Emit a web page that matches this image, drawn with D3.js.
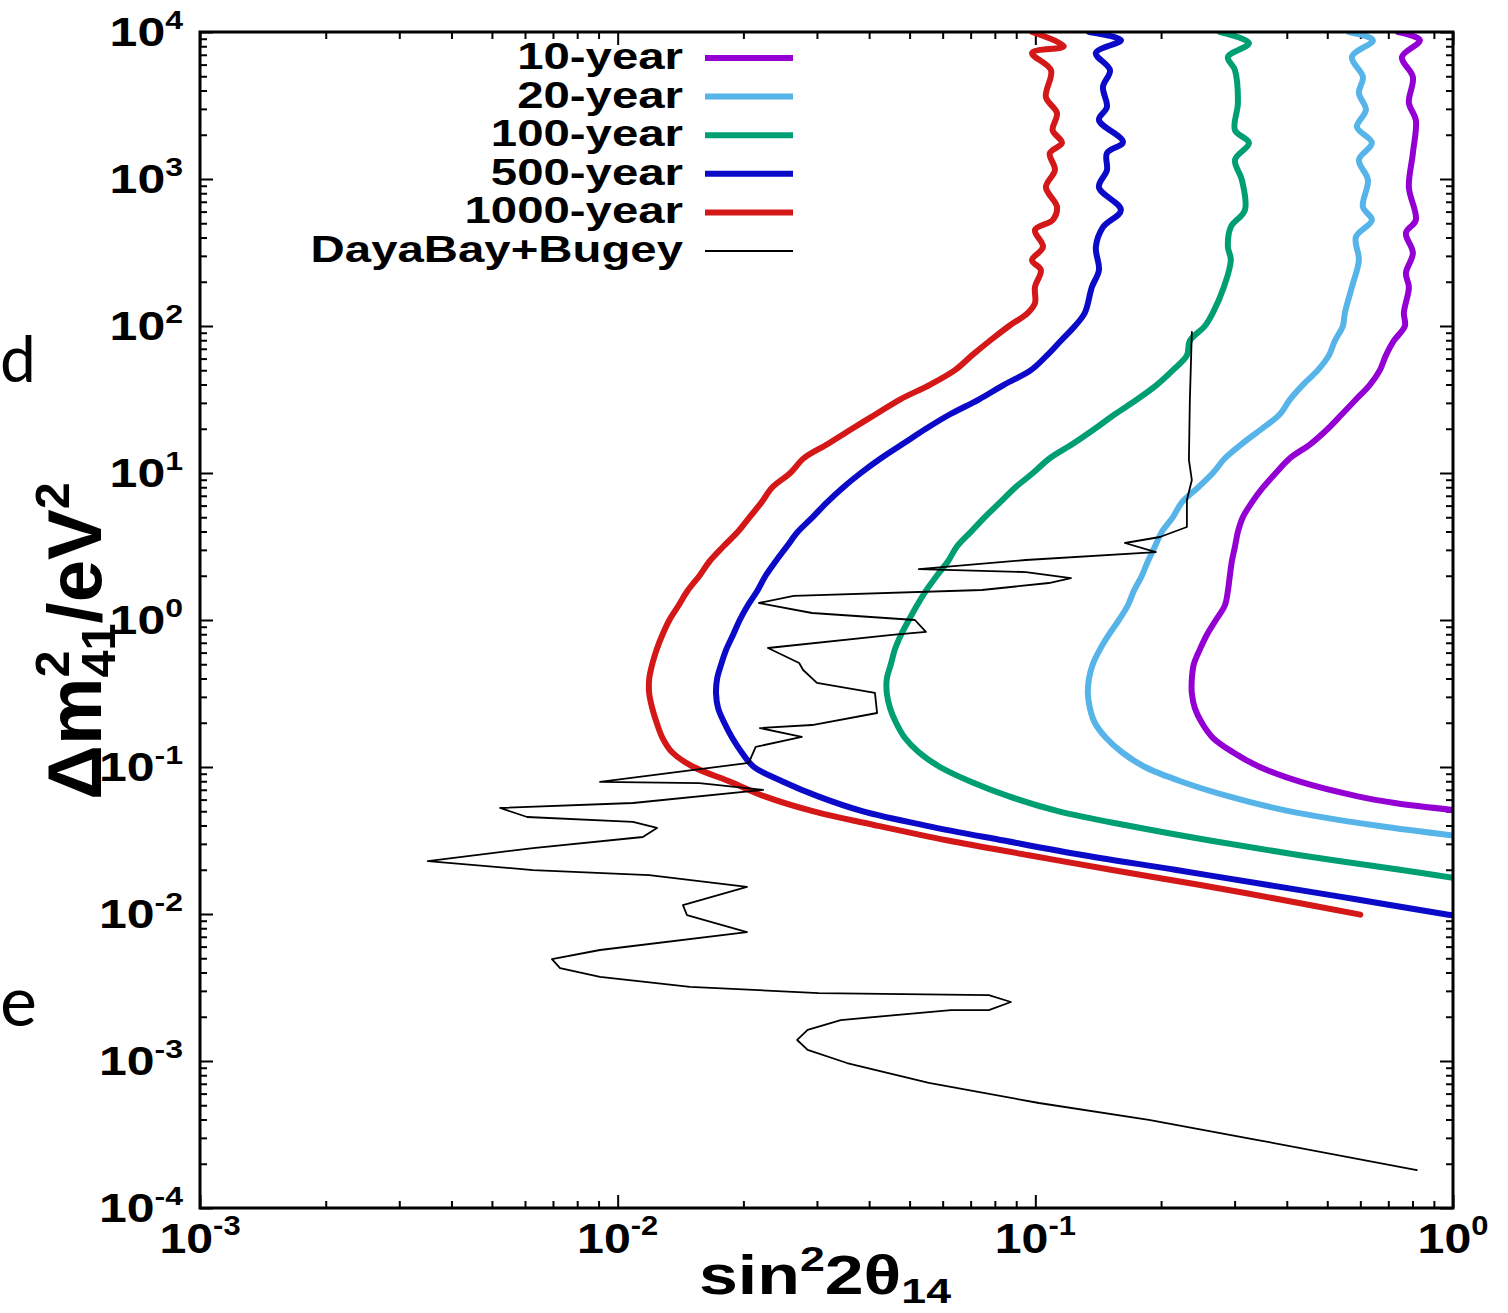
<!DOCTYPE html>
<html><head><meta charset="utf-8">
<script src="https://cdn.jsdelivr.net/npm/d3@7"></script>
<style>
html,body{margin:0;padding:0;background:#fff;}
svg{display:block;}
text{font-family:"Liberation Sans",Arial,sans-serif;font-weight:bold;fill:#000;}
</style></head><body>
<svg id="chart" width="1508" height="1313"></svg>
<script>
// ---------------- data (x = sin^2 2theta14, y = dm41^2 / eV^2) ----------------
const seriesNames  = ["10-year","20-year","100-year","500-year","1000-year","DayaBay+Bugey"];
const seriesColors = ["#9400d3","#56b4e9","#009e73","#0a0ac8","#d41818","#000000"];

const year10 = [[0.7379,10000],[0.8332,8800],[0.7544,6760],[0.8016,4940],[0.7840,3290],[0.8147,2520],[0.8016,1500],[0.7840,880],[0.8147,526],[0.7713,429],[0.8016,314],[0.7713,229],[0.7840,184],[0.7628,123],[0.767,100],[0.7218,79.4],[0.6908,63.1],[0.6683,50.1],[0.6324,39.8],[0.5855,31.6],[0.5420,25.1],[0.5017,20],[0.4567,15.8],[0.4069,12.6],[0.3766,10],[0.3505,7.94],[0.3300,6.31],[0.3140,5.01],[0.3055,3.98],[0.3006,3.16],[0.2955,2.51],[0.2922,2.0],[0.2891,1.58],[0.2844,1.26],[0.2706,1.0],[0.2575,0.794],[0.2477,0.631],[0.2396,0.501],[0.2370,0.398],[0.2370,0.316],[0.2410,0.251],[0.2504,0.2],[0.2661,0.158],[0.2972,0.126],[0.3448,0.1],[0.4300,0.0794],[0.5919,0.0631],[0.7258,0.0569],[1.0,0.0510]];

const year20 = [[0.5633,10000],[0.6430,8800],[0.5727,6760],[0.6085,4940],[0.5952,3850],[0.6187,2950],[0.5888,2260],[0.6394,1760],[0.5952,1350],[0.6256,985],[0.6085,645],[0.6394,526],[0.5855,403],[0.5952,281],[0.5727,184],[0.5510,123],[0.5450,100],[0.5214,79.4],[0.5045,63.1],[0.4748,50.1],[0.4371,39.8],[0.4069,31.6],[0.3850,25.1],[0.3486,20],[0.3123,15.8],[0.2844,12.6],[0.2661,10],[0.2449,7.94],[0.2243,6.31],[0.2135,5.01],[0.2009,3.98],[0.1933,3.16],[0.1860,2.51],[0.1799,2.0],[0.1722,1.58],[0.1666,1.26],[0.1585,1.0],[0.1500,0.794],[0.1428,0.631],[0.1373,0.501],[0.1344,0.398],[0.1336,0.316],[0.1351,0.251],[0.1388,0.2],[0.1476,0.158],[0.1612,0.126],[0.1830,0.1],[0.2243,0.0794],[0.2907,0.0631],[0.4046,0.0501],[0.6608,0.0398],[1.0,0.0342]];

const year100 = [[0.2767,10000],[0.3246,8400],[0.2891,6760],[0.3006,5500],[0.3055,3290],[0.3006,2150],[0.3246,1760],[0.3006,1350],[0.3123,985],[0.3175,615],[0.2938,472],[0.2891,345],[0.2938,281],[0.2828,184],[0.2661,123],[0.2547,100],[0.2344,79.4],[0.2306,63.1],[0.2135,50.1],[0.1954,39.8],[0.1750,31.6],[0.1550,25.1],[0.1388,20],[0.1230,15.8],[0.1083,12.6],[0.0987,10],[0.0894,7.94],[0.0823,6.31],[0.0757,5.01],[0.0701,3.98],[0.0649,3.16],[0.0618,2.51],[0.0581,2.0],[0.0547,1.58],[0.0521,1.26],[0.0498,1.0],[0.0477,0.794],[0.0461,0.631],[0.0451,0.501],[0.0441,0.398],[0.0441,0.316],[0.0449,0.251],[0.0464,0.2],[0.0487,0.158],[0.0526,0.126],[0.0591,0.1],[0.0701,0.0794],[0.0865,0.0631],[0.1133,0.0501],[0.1675,0.0398],[0.2618,0.0316],[0.4300,0.0251],[0.7463,0.02],[1.0,0.0176]];

const year500 = [[0.1344,10000],[0.1603,8800],[0.1396,7200],[0.1509,5500],[0.1452,4230],[0.1484,3090],[0.1420,2520],[0.1621,1785],[0.1484,1500],[0.1484,1150],[0.1420,880],[0.1603,615],[0.1452,470],[0.1396,345],[0.1420,240],[0.1366,184],[0.1314,123],[0.1244,100],[0.1151,79.4],[0.1066,63.1],[0.0976,50.1],[0.0841,39.8],[0.0732,31.6],[0.0625,25.1],[0.0547,20.0],[0.0482,15.8],[0.0427,12.6],[0.0382,10],[0.0346,7.94],[0.0317,6.31],[0.0293,5.01],[0.0270,3.98],[0.0254,3.16],[0.0239,2.51],[0.0226,2.0],[0.0216,1.58],[0.0205,1.26],[0.0196,1.0],[0.0189,0.794],[0.0182,0.631],[0.0177,0.501],[0.0173,0.398],[0.0172,0.316],[0.0174,0.251],[0.0180,0.2],[0.0188,0.158],[0.0198,0.126],[0.0212,0.1],[0.0249,0.0794],[0.0302,0.0631],[0.0385,0.0501],[0.0550,0.0398],[0.0841,0.0316],[0.1306,0.0251],[0.2159,0.02],[0.3584,0.0158],[0.5855,0.0126],[0.951,0.01],[1.0,0.0098]];

const year1000 = [[0.0982,10000],[0.117,8000],[0.0982,7200],[0.109,5500],[0.106,3600],[0.1127,2800],[0.110,2150],[0.1158,1760],[0.1083,1500],[0.1114,1150],[0.106,880],[0.1127,645],[0.110,525],[0.0998,450],[0.1043,345],[0.0982,280],[0.1031,240],[0.0998,184],[0.0998,143],[0.096,123],[0.0865,100],[0.0778,79.4],[0.0705,63.1],[0.0642,50.1],[0.0559,39.8],[0.0474,31.6],[0.0415,25.1],[0.0364,20.0],[0.0319,15.8],[0.0279,12.6],[0.0259,10],[0.0234,7.94],[0.0221,6.31],[0.0207,5.01],[0.0194,3.98],[0.0179,3.16],[0.0166,2.51],[0.0157,2.0],[0.0147,1.58],[0.0140,1.26],[0.0133,1.0],[0.0128,0.794],[0.0124,0.631],[0.0121,0.501],[0.0119,0.398],[0.0119,0.316],[0.0121,0.251],[0.0124,0.2],[0.0128,0.158],[0.0135,0.126],[0.0152,0.1],[0.0186,0.0794],[0.0225,0.0631],[0.0293,0.0501],[0.0420,0.0398],[0.0618,0.0316],[0.0966,0.0251],[0.1517,0.02],[0.2464,0.0158],[0.383,0.0126],[0.6,0.0099]];

const dayaBayBugey = [[0.2370,91],[0.2344,31.4],[0.2332,12.3],[0.2370,8.96],[0.2306,6.55],[0.2306,4.29],[0.1987,3.67],[0.1639,3.34],[0.1944,2.90],[0.0949,2.56],[0.0526,2.22],[0.0949,2.12],[0.1217,1.93],[0.1078,1.785],[0.0745,1.60],[0.0264,1.457],[0.0218,1.305],[0.0292,1.116],[0.0515,1.0],[0.0547,0.829],[0.0454,0.791],[0.0229,0.645],[0.0272,0.510],[0.0278,0.457],[0.0300,0.373],[0.0413,0.319],[0.0418,0.233],[0.0292,0.193],[0.0219,0.184],[0.0276,0.160],[0.0214,0.137],[0.0206,0.1065],[0.00907,0.0791],[0.0157,0.0778],[0.0223,0.0698],[0.01088,0.0569],[0.00523,0.0526],[0.00607,0.0457],[0.01088,0.0423],[0.01242,0.0385],[0.01149,0.0334],[0.00627,0.0281],[0.00351,0.0229],[0.00627,0.0199],[0.0119,0.0184],[0.0204,0.0153],[0.01433,0.0115],[0.01465,0.00984],[0.0204,0.00754],[0.00907,0.00569],[0.00696,0.00494],[0.00728,0.00429],[0.00907,0.00373],[0.01490,0.00319],[0.0303,0.00290],[0.0774,0.00281],[0.0874,0.00252],[0.0774,0.00222],[0.0628,0.00222],[0.0342,0.00190],[0.0285,0.00163],[0.0269,0.00139],[0.0285,0.00119],[0.0354,0.000969],[0.0556,0.000709],[0.1020,0.000518],[0.1870,0.000397],[0.3411,0.000290],[0.8194,0.000181]];

const xTickExponents = ["-3","-2","-1","0"];
const yTickExponents = ["-4","-3","-2","-1","0","1","2","3","4"];

// ---------------- layout ----------------
const svg = d3.select("#chart");
const L = 200, R = 1453, T = 32, B = 1208;
const x = d3.scaleLog().domain([1e-3, 1]).range([L, R]);
const y = d3.scaleLog().domain([1e-4, 1e4]).range([B, T]);

const xMajor = xTickExponents.map(e => Math.pow(10, +e));
const yMajor = yTickExponents.map(e => Math.pow(10, +e));
const isMajor = v => Math.abs(Math.log10(v) - Math.round(Math.log10(v))) < 1e-9;
const xMinor = x.ticks(30).filter(v => !isMajor(v));
const yMinor = y.ticks(100).filter(v => !isMajor(v));

// stray slide text on the left edge
svg.append("text").attr("x", 0).attr("y", 382).style("font-family", "Lato, 'Open Sans', sans-serif").style("font-weight", "normal").style("font-size", "64px").text("d");
svg.append("text").attr("x", 0).attr("y", 1026).style("font-family", "Lato, 'Open Sans', sans-serif").style("font-weight", "normal").style("font-size", "70px").text("e");

// ticks (inward, mirrored)
function ticksOn(axisFn, scale, vals, size, tr) {
  const g = svg.append("g").attr("transform", tr)
    .call(axisFn(scale).tickValues(vals).tickSize(size).tickSizeOuter(0).tickFormat(""));
  g.select(".domain").remove();
  g.selectAll(".tick line").attr("stroke", "#000").attr("stroke-width", 2);
}
ticksOn(d3.axisBottom, x, xMajor, -13, `translate(0,${B})`);
ticksOn(d3.axisBottom, x, xMinor, -7, `translate(0,${B})`);
ticksOn(d3.axisTop, x, xMajor, -13, `translate(0,${T})`);
ticksOn(d3.axisTop, x, xMinor, -7, `translate(0,${T})`);
ticksOn(d3.axisLeft, y, yMajor, -13, `translate(${L},0)`);
ticksOn(d3.axisLeft, y, yMinor, -7, `translate(${L},0)`);
ticksOn(d3.axisRight, y, yMajor, -13, `translate(${R},0)`);
ticksOn(d3.axisRight, y, yMinor, -7, `translate(${R},0)`);

// curves
const line = d3.line().x(d => x(d[0])).y(d => y(d[1]));
const seriesData = [year10, year20, year100, year500, year1000, dayaBayBugey];
svg.append("clipPath").attr("id", "plotclip").append("rect")
  .attr("x", L).attr("y", T).attr("width", R - L).attr("height", B - T);
const plotG = svg.append("g").attr("clip-path", "url(#plotclip)");
seriesData.forEach((d, i) => {
  const isBlack = i === 5;
  plotG.append("path").datum(d)
    .attr("d", line.curve(isBlack ? d3.curveLinear : d3.curveCatmullRom.alpha(0.5)))
    .attr("fill", "none")
    .attr("stroke", seriesColors[i])
    .attr("stroke-width", isBlack ? 1.8 : 6)
    .attr("stroke-linejoin", "round")
    .attr("stroke-linecap", "round");
});

// frame
svg.append("rect").attr("x", L).attr("y", T).attr("width", R - L).attr("height", B - T)
  .attr("fill", "none").attr("stroke", "#000").attr("stroke-width", 3);

// tick labels
function powLabel(xp, yp, exp, anchor, fs, sx) {
  const t = svg.append("text")
    .attr("transform", `translate(${xp},${yp}) scale(${sx},1)`)
    .attr("text-anchor", anchor).style("font-size", fs + "px");
  t.append("tspan").text("10");
  t.append("tspan").attr("dy", -fs * 0.42).style("font-size", (fs * 0.64) + "px").text(exp);
}
xMajor.forEach((v, i) => powLabel(x(v), 1253, xTickExponents[i], "middle", 42, 1.15));
yMajor.forEach((v, i) => powLabel(183, y(v) + 14, yTickExponents[i], "end", 41, 1.22));

// legend
const legY0 = 58, legDy = 38.6;
seriesNames.forEach((n, i) => {
  const yy = legY0 + i * legDy;
  svg.append("text").attr("transform", `translate(683,${yy + 11}) scale(1.28,1)`)
    .attr("text-anchor", "end").style("font-size", "37px").text(n);
  svg.append("line").attr("x1", 705).attr("x2", 793).attr("y1", yy).attr("y2", yy)
    .attr("stroke", seriesColors[i]).attr("stroke-width", i === 5 ? 1.8 : 6);
});

// x-axis title: sin^2 2θ_14
(function () {
  const fs = 55;
  const t = svg.append("text").attr("transform", `translate(825,1294) scale(1.27,1)`)
    .attr("text-anchor", "middle").style("font-size", fs + "px");
  t.append("tspan").text("sin");
  t.append("tspan").attr("dy", -fs * 0.42).style("font-size", fs * 0.64 + "px").text("2");
  t.append("tspan").attr("dy", fs * 0.42).text("2θ");
  t.append("tspan").attr("dy", fs * 0.16).style("font-size", fs * 0.64 + "px").text("14");
})();

// y-axis title: Δm^2_41 / eV^2
(function () {
  const fs = 76, ss = fs * 0.64;
  const t = svg.append("text").attr("transform", `translate(101,641) rotate(-90)`)
    .attr("text-anchor", "middle").style("font-size", fs + "px");
  t.append("tspan").text("Δm");
  t.append("tspan").attr("dy", -fs * 0.42).style("font-size", ss + "px").text("2");
  t.append("tspan").attr("dx", -ss * 0.556).attr("dy", fs * 0.6).style("font-size", ss + "px").text("41");
  t.append("tspan").attr("dy", -fs * 0.18).text("/eV");
  t.append("tspan").attr("dy", -fs * 0.42).style("font-size", ss + "px").text("2");
})();
</script>
</body></html>
